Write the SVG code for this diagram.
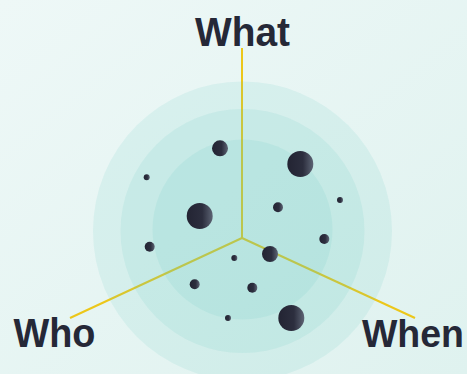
<svg xmlns="http://www.w3.org/2000/svg" width="467" height="374" viewBox="0 0 467 374">
<defs>
<linearGradient id="bg" x1="0" y1="0" x2="1" y2="1">
<stop offset="0" stop-color="#eef8f7"/>
<stop offset="1" stop-color="#dff2ef"/>
</linearGradient>
<linearGradient id="dot" x1="0" y1="0" x2="1" y2="0">
<stop offset="0" stop-color="#232433"/>
<stop offset="0.6" stop-color="#2c2e3e"/>
<stop offset="1" stop-color="#5d6474"/>
</linearGradient>
<style>
.ring{fill:#5cc8bf;fill-opacity:0.12}
.axis{stroke:#ecc71a;stroke-width:2;fill:none}
.lbl{font-family:"Liberation Sans",Arial,sans-serif;font-weight:bold;font-size:40px;fill:#252837}
.d{fill:url(#dot)}
</style>
</defs>
<rect width="467" height="374" fill="url(#bg)"/>
<g id="connectors">
<line class="axis" x1="242" y1="238" x2="242" y2="48"/>
<line class="axis" x1="242" y1="238" x2="70" y2="318"/>
<line class="axis" x1="242" y1="238" x2="415" y2="318"/>
</g>
<g id="rings">
<circle class="ring" cx="242.5" cy="231" r="149.5"/>
<circle class="ring" cx="242.5" cy="231" r="122"/>
<circle class="ring" cx="242.5" cy="229.5" r="90"/>
</g>
<g id="dots">
<circle class="d" cx="220" cy="148.3" r="8"/>
<circle class="d" cx="300.3" cy="164" r="13"/>
<circle class="d" cx="146.7" cy="177.3" r="3"/>
<circle class="d" cx="340" cy="200" r="3"/>
<circle class="d" cx="199.7" cy="216" r="13"/>
<circle class="d" cx="278" cy="207.3" r="5"/>
<circle class="d" cx="324.3" cy="239" r="5"/>
<circle class="d" cx="149.7" cy="246.7" r="5"/>
<circle class="d" cx="270" cy="254" r="8"/>
<circle class="d" cx="234.3" cy="258" r="3"/>
<circle class="d" cx="194.7" cy="284.3" r="5"/>
<circle class="d" cx="252.3" cy="287.7" r="5"/>
<circle class="d" cx="228" cy="318" r="3"/>
<circle class="d" cx="291.3" cy="318" r="13"/>
</g>
<g id="what"><text class="lbl" x="195" y="46" textLength="95" lengthAdjust="spacingAndGlyphs">What</text></g>
<g id="who"><text class="lbl" x="13.5" y="347" textLength="82" lengthAdjust="spacingAndGlyphs">Who</text></g>
<g id="when"><text class="lbl" x="362" y="347" font-size="38" style="font-size:38px" textLength="102" lengthAdjust="spacingAndGlyphs">When</text></g>
</svg>
